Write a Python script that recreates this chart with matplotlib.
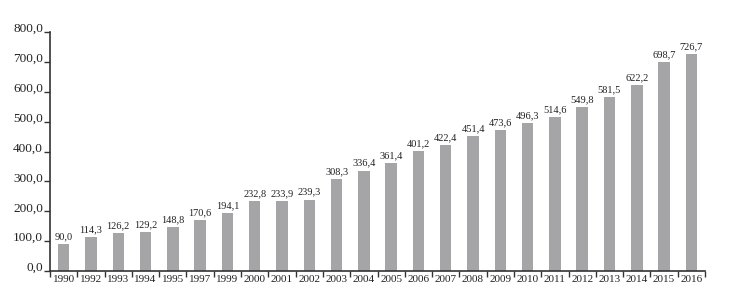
import matplotlib
matplotlib.use("Agg")
import matplotlib.pyplot as plt

plt.rcParams['font.family'] = ['Liberation Serif', 'DejaVu Serif']

years = ['1990', '1992', '1993', '1994', '1995', '1997', '1999', '2000', '2001',
         '2002', '2003', '2004', '2005', '2006', '2007', '2008', '2009', '2010',
         '2011', '2012', '2013', '2014', '2015', '2016']
values = [90.0, 114.3, 126.2, 129.2, 148.8, 170.6, 194.1, 232.8, 233.9, 239.3,
          308.3, 336.4, 361.4, 401.2, 422.4, 451.4, 473.6, 496.3, 514.6, 549.8,
          581.5, 622.2, 698.7, 726.7]
yticks = [0, 100, 200, 300, 400, 500, 600, 700, 800]

fig = plt.figure(figsize=(7.5, 3.03), dpi=100)
ax = fig.add_axes([0.0667, 0.1056, 0.8733, 0.7884])

x = list(range(len(years)))
ax.bar(x, values, width=0.42, color='#a5a5a7')

for xi, v in zip(x, values):
    ax.annotate(f"{v:.1f}".replace('.', ','), (xi, v), xytext=(0, 2),
                textcoords='offset points', ha='center', va='bottom',
                fontsize=7.5, color='#222222')

ax.set_xlim(-0.5, len(years) - 0.5)
ax.set_ylim(0, 800)

ax.set_yticks(yticks)
ax.set_yticklabels([f"{t:.1f}".replace('.', ',') for t in yticks], fontsize=9.5,
                   color='#222222', va='baseline')
ax.tick_params(axis='y', length=4, width=1, color='#333333', pad=1)

# ticks between categories, labels centred under bars
ax.set_xticks([i - 0.5 for i in range(len(years) + 1)])
ax.set_xticklabels([])
ax.set_xticks(x, minor=True)
ax.set_xticklabels(years, minor=True, fontsize=8, color='#222222')
ax.tick_params(axis='x', which='major', length=4, width=1, color='#333333', direction='out')
ax.tick_params(axis='x', which='minor', length=0, pad=3)

for s in ['top', 'right']:
    ax.spines[s].set_visible(False)
for s in ['left', 'bottom']:
    ax.spines[s].set_color('#333333')
    ax.spines[s].set_linewidth(1.2)

fig.savefig('out.png', dpi=100)
